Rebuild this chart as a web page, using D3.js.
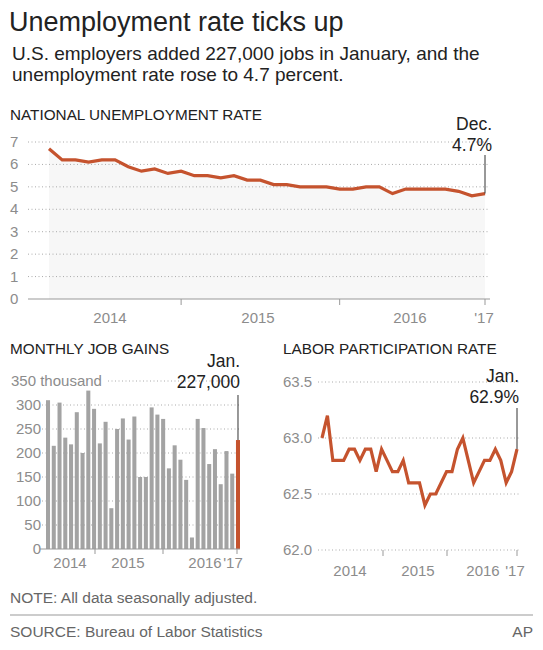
<!DOCTYPE html><html><head><meta charset="utf-8">
<script src="https://cdn.jsdelivr.net/npm/d3@7"></script>
<style>body{margin:0;background:#fff}text{font-family:"Liberation Sans",Arial,sans-serif}</style></head><body>
<script>
const unempRate=[6.7,6.2,6.2,6.1,6.2,6.2,5.9,5.7,5.8,5.6,5.7,5.5,5.5,5.4,5.5,5.3,5.3,5.1,5.1,5.0,5.0,5.0,4.9,4.9,5.0,5.0,4.7,4.9,4.9,4.9,4.9,4.8,4.6,4.7];
const unempTicks=["2014","2015","2016","'17"];
const jobGains=[310,215,305,232,218,285,200,330,292,220,265,85,250,272,228,276,150,150,295,280,271,168,216,186,144,24,271,252,177,208,135,204,157,227];
const partRate=[63.0,63.2,62.8,62.8,62.8,62.9,62.9,62.8,62.9,62.9,62.7,62.9,62.8,62.7,62.7,62.8,62.6,62.6,62.6,62.4,62.5,62.5,62.6,62.7,62.7,62.9,63.0,62.8,62.6,62.7,62.8,62.8,62.9,62.8,62.6,62.7,62.9];
const ORANGE="#c5532e",GREY="#8c8c8c";
const svg=d3.select("body").append("svg").attr("width",543).attr("height",650);
const T=(x,y,s,o={})=>svg.append("text").attr("x",x).attr("y",y).text(s).attr("font-size",o.fs||13).attr("fill",o.c||"#222").attr("text-anchor",o.a||"start");
T(9,31,"Unemployment rate ticks up",{fs:27});
T(12,60,"U.S. employers added 227,000 jobs in January, and the",{fs:19});
T(12,81,"unemployment rate rose to 4.7 percent.",{fs:19});
function grid(g,y,vals,x0,x1){vals.forEach(v=>g.append("line").attr("x1",x0).attr("x2",x1).attr("y1",y(v)).attr("y2",y(v)).attr("stroke","#aaa").attr("stroke-dasharray","1,2.5"));}
// Panel 1
T(10,120,"NATIONAL UNEMPLOYMENT RATE",{fs:15.3});
const x1=d3.scaleLinear().domain([0,unempRate.length-1]).range([49,485]);
const y1=d3.scaleLinear().domain([0,7]).range([299,142]);
const area=d3.area().x((d,i)=>x1(i)).y0(299).y1(d=>y1(d));
svg.append("path").datum(unempRate).attr("d",area).attr("fill","#f7f7f7");
grid(svg,y1,[1,2,3,4,5,6,7],28,490);
svg.append("line").attr("x1",28).attr("x2",490).attr("y1",299).attr("y2",299).attr("stroke","#999");
d3.range(0,8).forEach(v=>T(10,y1(v)+5,v,{fs:15,c:GREY}));
[x1(10),x1(22),x1(33)].forEach(x=>svg.append("line").attr("x1",x).attr("x2",x).attr("y1",299).attr("y2",305).attr("stroke","#999"));
[[110,unempTicks[0]],[258,unempTicks[1]],[410,unempTicks[2]],[484,unempTicks[3]]].forEach(([x,s])=>T(x,323,s,{fs:15,c:GREY,a:"middle"}));
svg.append("path").datum(unempRate).attr("d",d3.line().x((d,i)=>x1(i)).y(d=>y1(d))).attr("fill","none").attr("stroke",ORANGE).attr("stroke-width",3.2);
svg.append("line").attr("x1",x1(33)).attr("x2",x1(33)).attr("y1",155).attr("y2",y1(4.7)).attr("stroke","#333");
T(492,130,"Dec.",{fs:17.5,a:"end"});T(492,151,"4.7%",{fs:17.5,a:"end"});
// Panel 2
T(10,354,"MONTHLY JOB GAINS",{fs:15.3});
const x2=d3.scaleBand().domain(d3.range(jobGains.length)).range([46,240]).paddingInner(0.3);
const y2=d3.scaleLinear().domain([0,350]).range([549,381]);
grid(svg,y2,[50,100,150,200,250,300],42,240);
svg.append("line").attr("x1",108).attr("x2",240).attr("y1",y2(350)).attr("y2",y2(350)).attr("stroke","#aaa").attr("stroke-dasharray","1,2.5");
svg.selectAll(".bar").data(jobGains).join("rect").attr("x",(d,i)=>x2(i)).attr("width",x2.bandwidth()).attr("y",d=>y2(d)).attr("height",d=>549-y2(d)).attr("fill",(d,i)=>i==jobGains.length-1?ORANGE:"#a3a3a3");
svg.append("line").attr("x1",40).attr("x2",240).attr("y1",549).attr("y2",549).attr("stroke","#999");
[0,50,100,150,200,250,300].forEach(v=>T(41,y2(v)+5,v,{fs:15,c:GREY,a:"end"}));
T(11,y2(350)+5,"350 thousand",{fs:15,c:GREY});
[95,163,237].forEach(x=>svg.append("line").attr("x1",x).attr("x2",x).attr("y1",549).attr("y2",554).attr("stroke","#999"));
[[70,"2014"],[128,"2015"],[205,"2016"],[233,"'17"]].forEach(([x,s])=>T(x,568,s,{fs:15,c:GREY,a:"middle"}));
const lastX=x2(jobGains.length-1)+x2.bandwidth()/2;
svg.append("line").attr("x1",lastX).attr("x2",lastX).attr("y1",395).attr("y2",y2(227)).attr("stroke","#333");
T(240,367,"Jan.",{fs:17.5,a:"end"});T(240,388,"227,000",{fs:17.5,a:"end"});
// Panel 3
T(283,354,"LABOR PARTICIPATION RATE",{fs:15.3});
const x3=d3.scaleLinear().domain([0,partRate.length-1]).range([322,517]);
const y3=d3.scaleLinear().domain([62,63.5]).range([550,382]);
grid(svg,y3,[62,62.5,63,63.5],318,520);
[63.5,63.0,62.5,62.0].forEach(v=>T(283,y3(v)+5,v.toFixed(1),{fs:15,c:GREY}));
[383,447,517].forEach(x=>svg.append("line").attr("x1",x).attr("x2",x).attr("y1",550).attr("y2",556).attr("stroke","#999"));
[[350,"2014"],[418,"2015"],[483,"2016"],[515,"'17"]].forEach(([x,s])=>T(x,576,s,{fs:15,c:GREY,a:"middle"}));
svg.append("path").datum(partRate).attr("d",d3.line().x((d,i)=>x3(i)).y(d=>y3(d))).attr("fill","none").attr("stroke",ORANGE).attr("stroke-width",3.2);
svg.append("line").attr("x1",517).attr("x2",517).attr("y1",408).attr("y2",y3(62.9)).attr("stroke","#333");
T(519,382,"Jan.",{fs:17.5,a:"end"});T(519,403,"62.9%",{fs:17.5,a:"end"});
// footer
T(10,603,"NOTE: All data seasonally adjusted.",{fs:15.5,c:"#666"});
svg.append("line").attr("x1",10).attr("x2",533).attr("y1",615).attr("y2",615).attr("stroke","#999");
T(10,637,"SOURCE: Bureau of Labor Statistics",{fs:15.5,c:"#666"});
T(533,637,"AP",{fs:15.5,c:"#666",a:"end"});
</script></body></html>
